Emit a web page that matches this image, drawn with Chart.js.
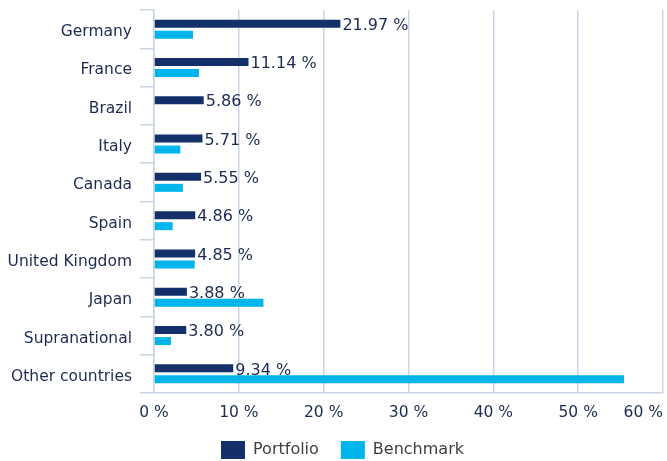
<!DOCTYPE html>
<html>
<head>
<meta charset="utf-8">
<script src="https://cdn.jsdelivr.net/npm/chart.js@4/dist/chart.umd.min.js"></script>
<style>
    html, body { margin: 0; padding: 0; background: #fff; }
    #country-bar { display: block; }
</style>
</head>
<body>
<canvas id="country-bar" width="667" height="461"></canvas>
<script>
// 国別配分（ポートフォリオ vs ベンチマーク）
const countries = ['Germany', 'France', 'Brazil', 'Italy', 'Canada', 'Spain',
    'United Kingdom', 'Japan', 'Supranational', 'Other countries'];
const portfolio = [21.97, 11.14, 5.86, 5.71, 5.55, 4.86, 4.85, 3.88, 3.80, 9.34];
const benchmark = [4.6, 5.3, 0, 3.1, 3.4, 2.2, 4.8, 12.9, 2.0, 55.4];
const xTicks = [0, 10, 20, 30, 40, 50, 60];

const NAVY = '#13306a';
const CYAN = '#00b5ec';
const TEXT = '#1c2b52';
const GRID = '#c9d5e6';
const FONT = '"DejaVu Sans", Verdana, sans-serif';

// ポートフォリオの値ラベルを棒の右端に描く（datalabels 無しの自前プラグイン）
const valueLabels = {
    id: 'valueLabels',
    afterLayout(chart) {
        // 凡例を少し右へ寄せる
        chart.legend.left += 7;
        chart.legend.right += 7;
    },
    afterDatasetsDraw(chart) {
        const ctx = chart.ctx;
        const meta = chart.getDatasetMeta(0);
        ctx.save();
        ctx.font = '16px ' + FONT;
        ctx.fillStyle = TEXT;
        ctx.textAlign = 'left';
        ctx.textBaseline = 'middle';
        meta.data.forEach((bar, i) => {
            ctx.fillText(portfolio[i].toFixed(2) + ' %', bar.x + 2, bar.y + 2);
        });
        ctx.restore();
    }
};

const ctx = document.getElementById('country-bar').getContext('2d');
new Chart(ctx, {
    type: 'bar',
    data: {
        labels: countries,
        datasets: [
            { label: 'Portfolio', data: portfolio, backgroundColor: NAVY },
            { label: 'Benchmark', data: benchmark, backgroundColor: CYAN }
        ]
    },
    options: {
        indexAxis: 'y',
        responsive: false,
        animation: false,
        categoryPercentage: 0.574,
        barPercentage: 0.727,
        layout: { padding: { top: 10, right: 4, left: 8, bottom: -8 } },
        scales: {
            x: {
                min: xTicks[0],
                max: xTicks[xTicks.length - 1],
                afterBuildTicks: axis => {
                    axis.ticks = xTicks.map(v => ({ value: v }));
                },
                afterFit: axis => {
                    // 端のラベル分の余白は取らない
                    axis.paddingLeft = 0;
                    axis.paddingRight = 0;
                    axis.height = 26;
                },
                grid: { color: GRID, drawTicks: false, lineWidth: 1.5 },
                border: { color: GRID, width: 1.5 },
                ticks: {
                    color: TEXT,
                    padding: 11,
                    autoSkip: false,
                    maxRotation: 0,
                    minRotation: 0,
                    font: { family: FONT, size: 15.5 },
                    // 最後のラベルは右端に収まるよう左へずらす
                    callback: (v, i, ticks) => i === ticks.length - 1
                        ? v + ' %' + '\u00a0'.repeat(8)
                        : v + ' %'
                }
            },
            y: {
                afterFit: axis => {
                    axis.paddingTop = 0;
                    axis.paddingBottom = 0;
                    axis.width = 146;
                },
                grid: {
                    offset: true,
                    drawOnChartArea: false,
                    color: GRID,
                    tickLength: 14,
                    lineWidth: 1.5
                },
                border: { color: GRID, width: 1.5 },
                ticks: {
                    color: TEXT,
                    padding: 8,
                    labelOffset: 3,
                    font: { family: FONT, size: 15.5 }
                }
            }
        },
        plugins: {
            legend: {
                position: 'bottom',
                labels: {
                    boxWidth: 24,
                    boxHeight: 18,
                    padding: 22,
                    color: '#404040',
                    font: { family: FONT, size: 16 }
                }
            },
            tooltip: { enabled: false }
        }
    },
    plugins: [valueLabels]
});
</script>
</body>
</html>
